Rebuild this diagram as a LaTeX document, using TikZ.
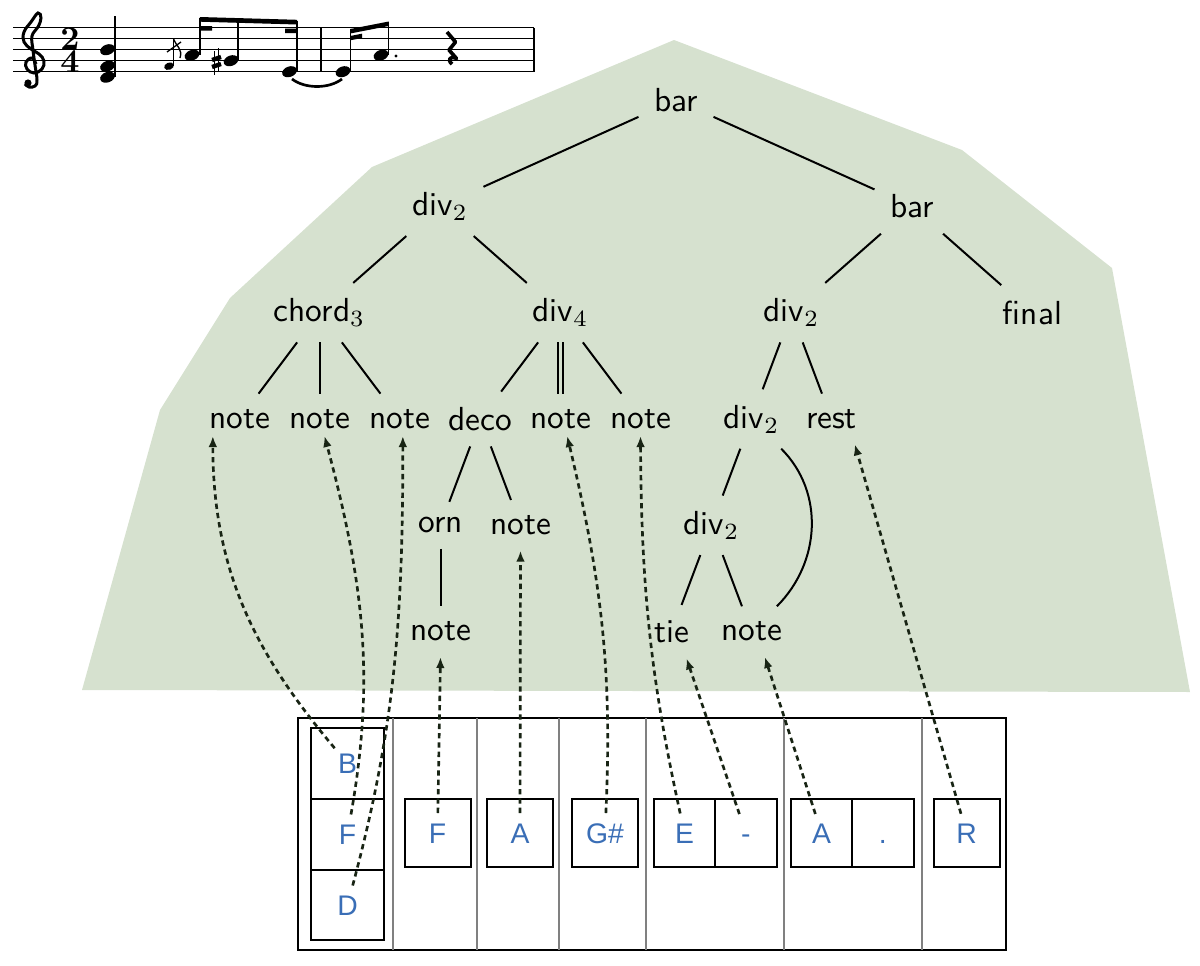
\documentclass[tikz,border=0pt]{standalone}
\usepackage{fontspec}
\newfontfamily\cellfont{Liberation Sans}
\usetikzlibrary{positioning,arrows.meta}
\definecolor{hull}{RGB}{214,225,207}
\definecolor{letter}{RGB}{58,110,182}
\definecolor{linkc}{RGB}{24,36,20}
\begin{document}
\begin{tikzpicture}[x=0.3pt,y=-0.3pt]
        \tikzstyle{tnode}=[font=\sffamily,inner sep=4.5pt]
        \tikzstyle{cell}=[draw,line width=0.6pt,outer sep=0pt,inner sep=0pt,minimum width=19.8pt,minimum height=20.4pt,text height=6.2pt,text depth=0pt,text=letter,font=\cellfont\fontsize{8.5}{10}\selectfont]
        \tikzstyle{pair}=[cell,minimum width=18.4pt]
        \tikzstyle{chordcell}=[cell,minimum width=21.9pt,minimum height=21.2pt]
        \tikzstyle{link}=[draw=linkc,line width=0.8pt,dash pattern=on 1.6pt off 1.2pt,-{Latex[length=3.3pt,width=2.6pt]},shorten <=6pt]
        \useasboundingbox (0,0) rectangle (1200,966);
        \foreach \y in {27.7,38.7,49.7,60.7,71.7}
                \draw[line width=0.4pt] (13,\y) -- (534,\y);
        \draw[line width=0.7pt] (321,27.7) -- (321,71.7) (534,27.7) -- (534,71.7);
        \draw[line width=0.9pt] plot[smooth,tension=0.7] coordinates {(36,64) (32,58) (26,62) (27,69) (34,73) (42,69) (44,61) (39,54) (31,49) (24,42) (24,32) (31,22) (38,13) (41,18) (38,27) (32,36) (33,50) (35,65) (37,80) (35,86) (29,87) (25,84)};
        \fill (28,83) circle (3.6);
        \node[font=\bfseries\fontsize{10}{6.7}\selectfont,align=center,inner sep=0pt] (ts) at (70,50) {2\\4};
        \foreach \x/\y in {107.5/49.7,107.5/66.2,107.5/77.2,192/55.2,231/60.7,289.5/71.7,343/71.7,381/55.2}
                \fill[rotate around={20:(\x,\y)}] (\x,\y) ellipse (7.6 and 5.2);
        \fill[rotate around={20:(169,66.2)}] (169,66.2) ellipse (5 and 3.6);
        \draw[line width=0.45pt] (115,77) -- (115,16) (200,55) -- (200,18) (238,60) -- (238,19) (297,71) -- (297,21)
                (350.5,71) -- (350.5,31) (388.5,55) -- (388.5,23) (173.5,66) -- (173.5,39);
        \fill (199.8,17) -- (297.2,19.8) -- (297.2,24.5) -- (199.8,21.7) -- cycle;
        \fill (200,26) rectangle (212,30.5) (285,28.5) rectangle (297,33);
        \fill (350.2,29) -- (388.8,21.5) -- (388.8,26) -- (350.2,33.5) -- cycle;
        \fill (350.2,36) -- (362,33.7) -- (362,38) -- (350.2,40.3) -- cycle;
        \draw[line width=0.4pt] (173.5,39) .. controls (176,46) and (183,49) .. (180,58) (167,52) -- (181,42);
        \draw[line width=0.4pt] (214.5,51) -- (214.5,75) (218.5,48) -- (218.5,72);
        \draw[line width=1.3pt] (212,60) -- (221,57) (212,67) -- (221,64);
        \fill (396,56) circle (1.7);
        \draw[line width=0.8pt] (292,79) .. controls (305,89) and (329,89) .. (342,79);
        \draw[line width=1.1pt,line join=round] (447,32) -- (455.5,42) -- (449,50) -- (456.5,58.5) .. controls (450,55.5) and (447,60) .. (452,64);
        \fill[hull] (674,40) -- (962,150) -- (1112,268) -- (1190,692) -- (82,690) -- (160,410) -- (230,298) -- (372,167) -- cycle;
        \node[tnode] (bar) at (676,100) {bar}
                [every child node/.style={tnode},level distance=31.9pt,edge from parent/.style={draw,line width=0.6pt},
                level 1/.style={sibling distance=141.6pt},level 2/.style={sibling distance=72.3pt},level 3/.style={sibling distance=24pt}]
        child {node (dv1) {div$_2$}
                child {node (ch) {chord$_3$}
                        child {node (n1) {note}}
                        child {node (n2) {note}}
                        child {node (n3) {note}}}
                child {node (dv2) {div$_4$}
                        child {node (dc) {deco}
                                child {node (orn) {orn}
                                        child {node (n6) {note}}}
                                child {node (n7) {note}}}
                        child {node (n4) {note} edge from parent[double=hull,double distance=0.7pt]}
                        child {node (n5) {note}}}}
        child {node (br) {bar}
                child {node (dv3) {div$_2$}
                        child {node (dv4) {div$_2$}
                                child {node (dv5) {div$_2$}
                                        child {node (tie) {tie}}
                                        child {node (n8) {note}}}
                                child[missing]}
                        child {node (rs) {rest}}}
                child {node (fn) {final}}};
        \draw[line width=0.6pt] (dv4) to[out=-45,in=45] (n8);
        \draw[line width=0.5pt] (298,718) rectangle (1006,950);
        \foreach \x in {393,477,559,646,784,922}
                \draw[gray,line width=0.4pt] (\x,718) -- (\x,950);
        \node[chordcell] (cB) at (347.5,763.5) {B};
        \node[chordcell,below=0pt of cB] (cF) {F};
        \node[chordcell,below=0pt of cF] (cD) {D};
        \node[cell] (pF) at (437.5,833) {F};
        \node[cell] (pA) at (520,833) {A};
        \node[cell] (pG) at (605,833) {G\#};
        \node[pair] (pE) at (684.5,833) {E};
        \node[pair,right=0pt of pE] (pT) {-};
        \node[pair] (pA2) at (821.5,833) {A};
        \node[pair,right=0pt of pA2] (pD) {.};
        \node[cell] (pR) at (966.5,833) {R};
        \draw[link] (cB.center) to[out=130,in=-90] ([xshift=-8pt,yshift=2.5pt]n1.south);
        \draw[link] (cF.center) to[out=80,in=-75] ([xshift=1.5pt,yshift=2.5pt]n2.south);
        \draw[link] (cD.center) to[out=75,in=-90] ([xshift=1pt,yshift=2.5pt]n3.south);
        \draw[link] (pF.center) -- (n6.south);
        \draw[link] (pA.center) -- (n7.south);
        \draw[link] (pG.center) to[bend right=8] ([xshift=2pt,yshift=2.5pt]n4.south);
        \draw[link] (pE.center) to[bend left=6] ([yshift=2.5pt]n5.south);
        \draw[link] (pT.center) -- ([xshift=4.5pt]tie.south);
        \draw[link] (pA2.center) -- ([xshift=4pt]n8.south);
        \draw[link] (pR.center) -- ([xshift=7pt]rs.south);
\end{tikzpicture}
\end{document}
